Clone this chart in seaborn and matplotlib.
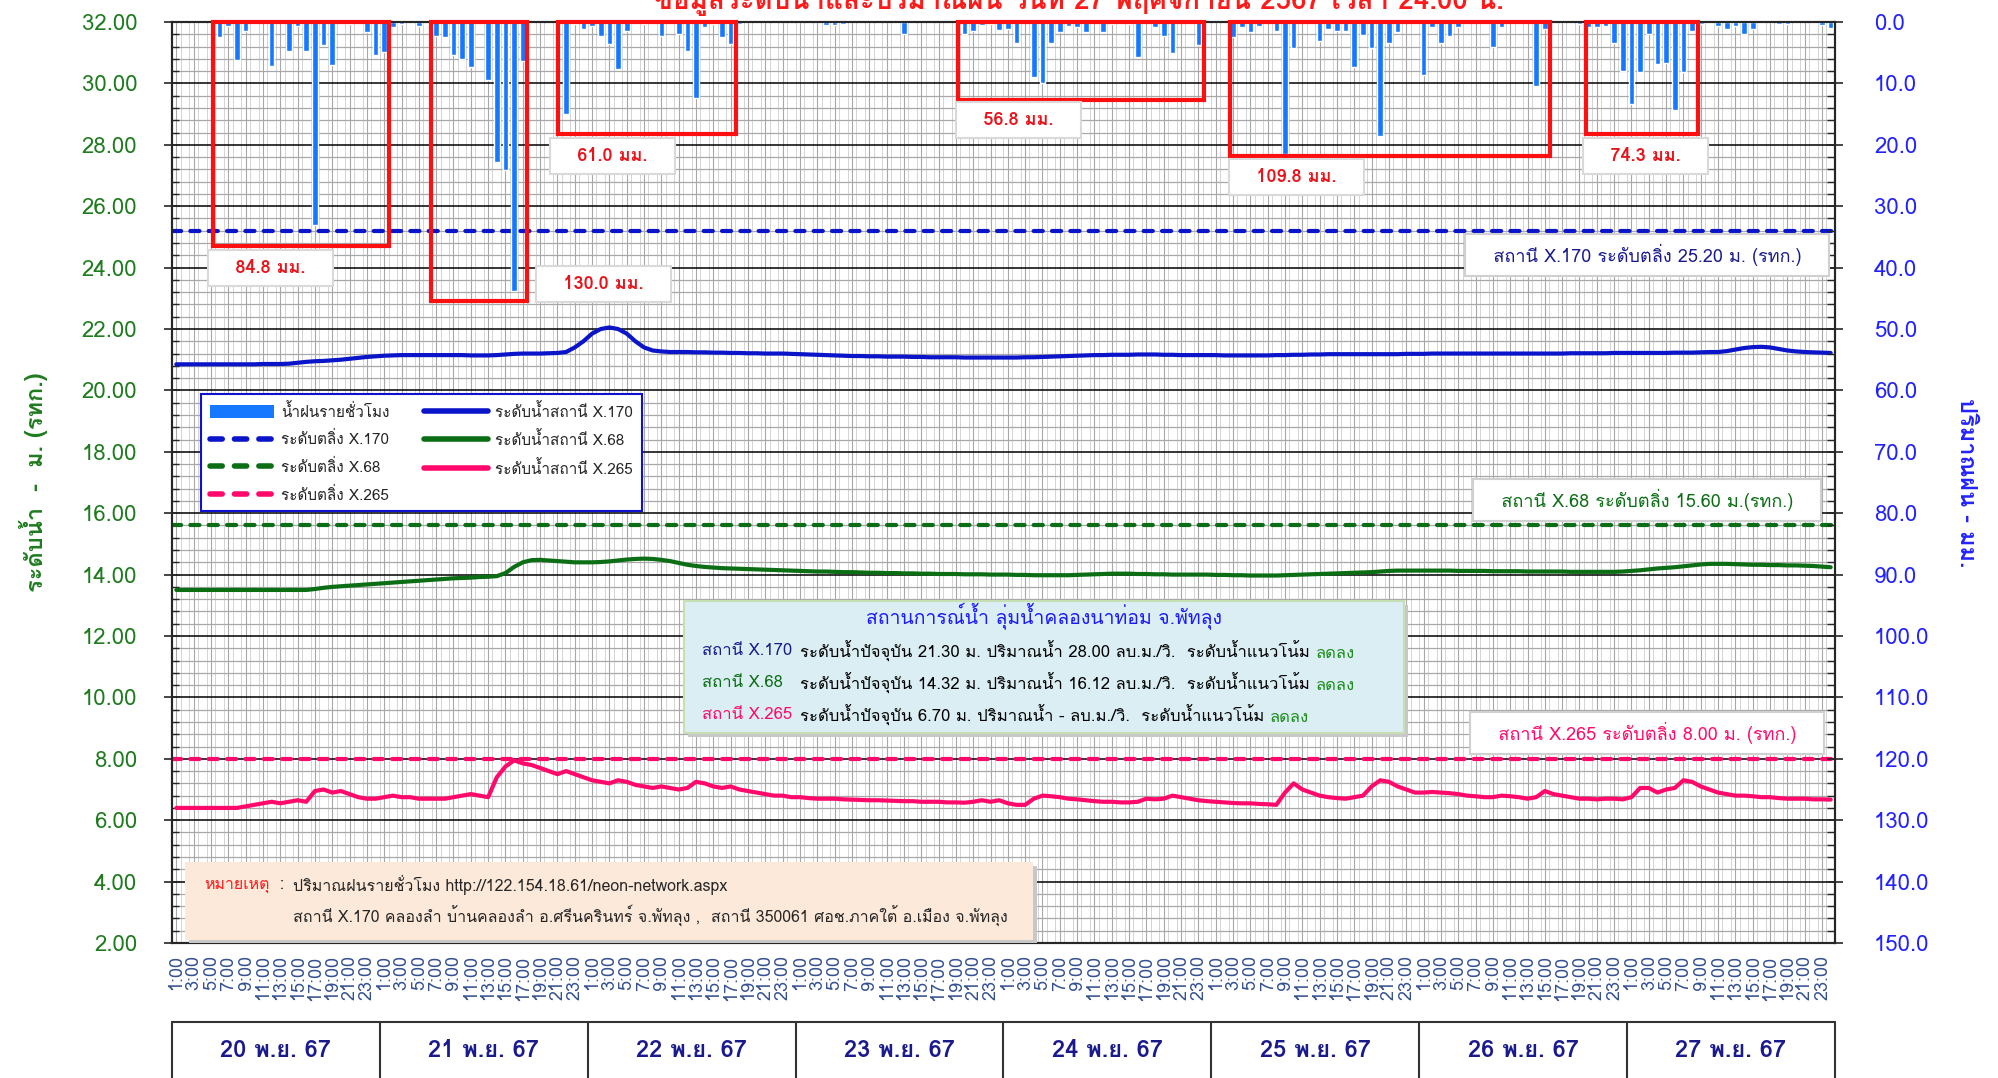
import matplotlib
matplotlib.use("Agg")
import matplotlib.pyplot as plt
import matplotlib.transforms as mtransforms
from matplotlib import font_manager
from matplotlib.ft2font import FT2Font
from matplotlib.lines import Line2D
from matplotlib.patches import Patch, Rectangle
from matplotlib.ticker import MultipleLocator, FixedLocator
import seaborn as sns


# ---------------- data ----------------
day_labels = ['20 พ.ย. 67', '21 พ.ย. 67', '22 พ.ย. 67', '23 พ.ย. 67',
              '24 พ.ย. 67', '25 พ.ย. 67', '26 พ.ย. 67', '27 พ.ย. 67']
hour_labels = ['1:00', '2:00', '3:00', '4:00', '5:00', '6:00', '7:00', '8:00',
               '9:00', '10:00', '11:00', '12:00', '13:00', '14:00', '15:00', '16:00',
               '17:00', '18:00', '19:00', '20:00', '21:00', '22:00', '23:00', '24:00']

# hourly water level (m. MSL), one row per day
level_x170 = [
    20.85, 20.85, 20.85, 20.85, 20.85, 20.85, 20.85, 20.85, 20.85, 20.85, 20.86, 20.86, 20.86, 20.87, 20.90, 20.93, 20.95, 20.96, 20.98, 21.00, 21.03, 21.06, 21.09, 21.11,
    21.13, 21.14, 21.15, 21.15, 21.15, 21.15, 21.15, 21.15, 21.15, 21.15, 21.14, 21.14, 21.14, 21.15, 21.17, 21.19, 21.20, 21.20, 21.20, 21.21, 21.22, 21.25, 21.40, 21.60,
    21.85, 22.00, 22.05, 22.00, 21.85, 21.60, 21.40, 21.30, 21.27, 21.25, 21.25, 21.25, 21.24, 21.24, 21.23, 21.23, 21.22, 21.22, 21.21, 21.21, 21.20, 21.20, 21.20, 21.19,
    21.18, 21.17, 21.16, 21.15, 21.14, 21.13, 21.12, 21.12, 21.11, 21.11, 21.10, 21.10, 21.10, 21.09, 21.09, 21.08, 21.08, 21.08, 21.08, 21.07, 21.07, 21.07, 21.07, 21.07,
    21.07, 21.07, 21.08, 21.08, 21.09, 21.10, 21.11, 21.12, 21.13, 21.14, 21.15, 21.15, 21.16, 21.16, 21.16, 21.17, 21.17, 21.17, 21.16, 21.16, 21.15, 21.15, 21.15, 21.15,
    21.15, 21.14, 21.14, 21.14, 21.14, 21.14, 21.14, 21.15, 21.15, 21.16, 21.16, 21.17, 21.17, 21.18, 21.18, 21.18, 21.18, 21.18, 21.18, 21.18, 21.18, 21.18, 21.19, 21.19,
    21.19, 21.20, 21.20, 21.20, 21.20, 21.20, 21.20, 21.20, 21.20, 21.20, 21.20, 21.20, 21.20, 21.20, 21.20, 21.20, 21.20, 21.21, 21.21, 21.21, 21.21, 21.21, 21.22, 21.22,
    21.22, 21.22, 21.22, 21.22, 21.22, 21.23, 21.23, 21.23, 21.24, 21.25, 21.25, 21.28, 21.33, 21.38, 21.41, 21.42, 21.40, 21.35, 21.30, 21.27, 21.25, 21.24, 21.23, 21.22,
]
level_x68 = [
    13.50, 13.50, 13.50, 13.50, 13.50, 13.50, 13.50, 13.50, 13.50, 13.50, 13.50, 13.50, 13.50, 13.50, 13.50, 13.50, 13.53, 13.57, 13.60, 13.62, 13.64, 13.66, 13.68, 13.70,
    13.72, 13.74, 13.76, 13.78, 13.80, 13.82, 13.84, 13.86, 13.88, 13.89, 13.90, 13.92, 13.93, 13.95, 14.05, 14.25, 14.40, 14.47, 14.48, 14.46, 14.44, 14.42, 14.40, 14.40,
    14.40, 14.41, 14.43, 14.46, 14.49, 14.51, 14.52, 14.51, 14.48, 14.44, 14.38, 14.32, 14.28, 14.25, 14.23, 14.21, 14.20, 14.19, 14.18, 14.17, 14.16, 14.15, 14.14, 14.13,
    14.12, 14.11, 14.10, 14.10, 14.09, 14.08, 14.08, 14.07, 14.06, 14.06, 14.05, 14.05, 14.04, 14.04, 14.03, 14.03, 14.02, 14.02, 14.02, 14.01, 14.01, 14.01, 14.00, 14.00,
    14.00, 13.99, 13.99, 13.98, 13.98, 13.98, 13.98, 13.98, 13.99, 14.00, 14.01, 14.02, 14.03, 14.03, 14.03, 14.02, 14.02, 14.01, 14.01, 14.00, 14.00, 14.00, 14.00, 14.00,
    13.99, 13.99, 13.98, 13.98, 13.97, 13.97, 13.97, 13.97, 13.98, 13.99, 14.00, 14.01, 14.02, 14.03, 14.04, 14.05, 14.06, 14.07, 14.08, 14.10, 14.12, 14.13, 14.13, 14.13,
    14.13, 14.13, 14.13, 14.13, 14.12, 14.12, 14.12, 14.12, 14.11, 14.11, 14.11, 14.11, 14.10, 14.10, 14.10, 14.10, 14.10, 14.09, 14.09, 14.09, 14.09, 14.09, 14.09, 14.10,
    14.12, 14.14, 14.17, 14.20, 14.22, 14.24, 14.27, 14.30, 14.33, 14.35, 14.35, 14.35, 14.34, 14.33, 14.32, 14.32, 14.31, 14.31, 14.30, 14.30, 14.29, 14.28, 14.26, 14.24,
]
level_x265 = [
    6.40, 6.40, 6.40, 6.40, 6.40, 6.40, 6.40, 6.40, 6.45, 6.50, 6.55, 6.60, 6.55, 6.60, 6.65, 6.60, 6.95, 7.00, 6.90, 6.95, 6.85, 6.75, 6.70, 6.70,
    6.75, 6.80, 6.75, 6.75, 6.70, 6.70, 6.70, 6.70, 6.75, 6.80, 6.85, 6.80, 6.75, 7.40, 7.75, 7.95, 7.85, 7.80, 7.70, 7.60, 7.50, 7.60, 7.50, 7.40,
    7.30, 7.25, 7.20, 7.30, 7.25, 7.15, 7.10, 7.05, 7.10, 7.05, 7.00, 7.05, 7.25, 7.20, 7.10, 7.05, 7.10, 7.00, 6.95, 6.90, 6.85, 6.80, 6.80, 6.75,
    6.75, 6.72, 6.70, 6.70, 6.70, 6.68, 6.67, 6.66, 6.65, 6.65, 6.64, 6.63, 6.62, 6.62, 6.60, 6.60, 6.60, 6.58, 6.58, 6.57, 6.60, 6.65, 6.60, 6.65,
    6.55, 6.50, 6.50, 6.70, 6.80, 6.78, 6.75, 6.70, 6.68, 6.65, 6.62, 6.60, 6.60, 6.58, 6.58, 6.60, 6.70, 6.68, 6.70, 6.80, 6.75, 6.70, 6.65, 6.62,
    6.60, 6.58, 6.56, 6.55, 6.55, 6.53, 6.52, 6.50, 6.90, 7.20, 7.00, 6.90, 6.80, 6.75, 6.72, 6.70, 6.75, 6.80, 7.10, 7.30, 7.25, 7.10, 7.00, 6.90,
    6.90, 6.92, 6.90, 6.88, 6.85, 6.80, 6.78, 6.75, 6.75, 6.80, 6.78, 6.75, 6.70, 6.75, 6.95, 6.85, 6.80, 6.75, 6.70, 6.70, 6.68, 6.70, 6.70, 6.68,
    6.75, 7.05, 7.05, 6.90, 7.00, 7.05, 7.30, 7.25, 7.10, 7.00, 6.90, 6.85, 6.80, 6.80, 6.78, 6.75, 6.75, 6.72, 6.70, 6.70, 6.70, 6.68, 6.68, 6.67,
]

# hourly rainfall (mm), station 350061
rain_mm = [
    0, 0, 0, 0, 0, 2.4, 0.7, 6.2, 1.5, 0.4, 0, 7.2, 0, 4.7, 0.7, 4.7, 33.0, 3.7, 7.0, 0, 0.4, 0, 1.7, 5.4,
    4.9, 0.8, 0.4, 0, 0.7, 0, 2.2, 2.4, 5.4, 6.1, 7.4, 0, 9.4, 22.8, 24.1, 43.8, 6.4, 0, 0, 0, 0, 15.0, 0.4, 1.1,
    0.6, 2.2, 3.6, 7.6, 1.5, 0, 0.4, 0.4, 2.2, 0, 1.9, 4.7, 12.4, 0.8, 0.4, 2.4, 3.6, 0.3, 0, 0, 0, 0, 0, 0,
    0, 0, 0, 0.5, 0.5, 0.4, 0, 0, 0, 0, 0, 0, 2.0, 0, 0, 0, 0, 0, 0, 2.0, 1.5, 0.5, 0.3, 1.3,
    1.1, 3.4, 0, 8.9, 9.9, 3.4, 1.6, 0.6, 0.8, 1.6, 0, 1.6, 0.4, 0, 0.4, 5.7, 0, 0.8, 2.2, 5.1, 0, 0, 3.7, 0,
    0, 0, 2.4, 0.8, 1.6, 0.6, 0, 1.4, 21.5, 4.3, 0, 0, 3.1, 1.1, 1.4, 1.4, 7.4, 2.1, 4.3, 18.5, 3.4, 1.6, 0, 0.4,
    8.6, 0.8, 3.5, 2.3, 0.8, 0, 0, 0, 4.1, 0.8, 0, 0, 0, 10.5, 1.1, 0, 0, 0, 0.4, 0.8, 0.8, 0.6, 3.4, 7.9,
    13.4, 8.1, 1.9, 6.9, 6.6, 14.3, 8.1, 1.5, 0.4, 0, 0.6, 1.1, 0.6, 2.0, 1.1, 0, 0, 0.4, 0.4, 0, 0, 0, 0.5, 0.9,
]

bank_levels = [25.20, 15.60, 8.00]
station_names = ['X.170', 'X.68', 'X.265']
current_level = ['21.30', '14.32', '6.70']
current_flow = ['28.00', '16.12', '-']
trend = ['ลดลง', 'ลดลง', 'ลดลง']
rain_totals = [84.8, 130.0, 61.0, 56.8, 109.8, 74.3]

# rain-event boxes: (x from, x to, depth mm) and label position (x, mm)
rain_boxes = [(4.2, 24.5, 36.5), (29.4, 40.5, 45.4), (44.1, 64.6, 18.3),
              (90.3, 118.7, 12.7), (121.6, 158.6, 21.8), (162.7, 175.7, 18.3)]
rain_label_pos = [(10.9, 40.0), (49.3, 42.7), (50.4, 21.8),
                  (97.2, 16.0), (129.3, 25.3), (169.6, 21.8)]

c170 = '#0a14c8'
c68 = '#0b6e14'
c265 = '#ff0a6c'
c_rain = '#1677ff'
c_left = '#1e7b1e'
c_right = '#2222ff'
c_navy = '#1a1a8c'


def find_thai_font():
    seen = set()
    for f in font_manager.fontManager.ttflist:
        if f.name in seen:
            continue
        seen.add(f.name)
        try:
            if 0x0E01 in FT2Font(f.fname).get_charmap():
                return f.name
        except Exception:
            pass
    return None


sns.set_style('white')
thai = find_thai_font()
plt.rcParams['font.family'] = ([thai] if thai else []) + ['DejaVu Sans']

n = len(rain_mm)
slots = list(range(n))

fig = plt.figure(figsize=(19.98, 10.78), dpi=100)
ax = fig.add_axes([172 / 1998, 1 - 943 / 1078, 1663 / 1998, 921 / 1078])
ax2 = ax.twinx()

# ---------------- levels ----------------
ax.set_xlim(-0.5, n - 0.5)
ax.set_ylim(2, 32)
ax.set_axisbelow(True)

ax.yaxis.set_major_locator(MultipleLocator(2))
ax.yaxis.set_minor_locator(MultipleLocator(0.4))
ax.set_yticklabels([f'{v:.2f}' for v in ax.get_yticks()])
ax.xaxis.set_major_locator(FixedLocator(slots[::2]))
ax.xaxis.set_minor_locator(FixedLocator([s + 0.5 for s in slots]))
ax.set_xticklabels([hour_labels[s % 24] for s in slots[::2]], rotation=90)

ax.grid(which='minor', axis='y', color='#a8a8a8', lw=0.9)
ax.grid(which='major', axis='y', color='black', lw=1.1)
ax.grid(which='major', axis='x', color='#a8a8a8', lw=0.8)
ax.grid(which='minor', axis='x', color='#d4d4d4', lw=0.7)

ax.tick_params(axis='y', which='major', direction='inout', length=12, width=1.2,
               labelsize=16, labelcolor=c_left, pad=19)
ax.tick_params(axis='y', which='minor', direction='in', length=5, width=1)
ax.tick_params(axis='x', which='major', direction='out', length=7, width=1,
               labelsize=13, labelcolor='#34508f', pad=2)
ax.tick_params(axis='x', which='minor', direction='out', length=7, width=1)

for s in ax.spines.values():
    s.set_color('black')
    s.set_linewidth(1.5)

sns.lineplot(x=slots, y=level_x170, ax=ax, color=c170, lw=3, legend=False)
sns.lineplot(x=slots, y=level_x68, ax=ax, color=c68, lw=3, legend=False)
sns.lineplot(x=slots, y=level_x265, ax=ax, color=c265, lw=3, legend=False)

dash = (0, (2.2, 2.2))
for lvl, col in zip(bank_levels, [c170, c68, c265]):
    ax.axhline(lvl, color=col, lw=3, ls=dash, dash_capstyle='round', zorder=3)

ax.set_ylabel('ระดับน้ำ  -  ม. (รทก.)', color=c_left, fontsize=17, fontweight='bold')
ax.yaxis.set_label_coords(-0.0746, 0.5)

# ---------------- rainfall ----------------
ax2.bar(slots, rain_mm, width=0.65, color=c_rain, zorder=2)
ax2.set_ylim(150, 0)
ax2.yaxis.set_major_locator(MultipleLocator(10))
ax2.yaxis.set_minor_locator(MultipleLocator(2))
ax2.set_yticklabels([f'{v:.1f}' for v in ax2.get_yticks()])
ax2.tick_params(axis='y', which='major', direction='inout', length=12, width=1.2,
                labelsize=16, labelcolor=c_right, pad=22)
ax2.tick_params(axis='y', which='minor', direction='in', length=6, width=1)
ax2.set_ylabel('ปริมาณฝน - มม.', color=c_right, fontsize=17, fontweight='bold',
               rotation=270, va='center')
ax2.yaxis.set_label_coords(1.0788, 0.5)
for s in ax2.spines.values():
    s.set_linewidth(1.5)

for (x0, x1, d), (lx, ly), tot in zip(rain_boxes, rain_label_pos, rain_totals):
    ax2.add_patch(Rectangle((x0, 0), x1 - x0, d, fill=False, ec='#ff1010', lw=3,
                            clip_on=False, zorder=4))
    ax2.text(lx, ly, f'   {tot:.1f} มม.   ', color='#e8141b', fontsize=13, fontweight='bold',
             ha='center', va='center', zorder=5,
             bbox=dict(boxstyle='square,pad=0.5', fc='white', ec='#d9d9d9', lw=1.5))

# bank-level captions
bank_text = ['สถานี X.170 ระดับตลิ่ง 25.20 ม. (รทก.)',
             'สถานี X.68 ระดับตลิ่ง 15.60 ม.(รทก.)',
             'สถานี X.265 ระดับตลิ่ง 8.00 ม. (รทก.)']
bank_text_y = [24.4, 16.44, 8.85]
for txt, ty, col in zip(bank_text, bank_text_y, [c_navy, c68, c265]):
    ax2.text(169.8, ty, f'   {txt}   ', transform=ax.transData, color=col, fontsize=13,
             ha='center', va='center', zorder=5,
             bbox=dict(boxstyle='square,pad=0.55', fc='white', ec='#d0d0d0', lw=1.5))

# ---------------- legend ----------------
handles = [
    Patch(fc=c_rain, ec='none', label='น้ำฝนรายชั่วโมง'),
    Line2D([], [], color=c170, lw=4, ls=dash, dash_capstyle='round', label='ระดับตลิ่ง X.170'),
    Line2D([], [], color=c68, lw=4, ls=dash, dash_capstyle='round', label='ระดับตลิ่ง X.68'),
    Line2D([], [], color=c265, lw=4, ls=dash, dash_capstyle='round', label='ระดับตลิ่ง X.265'),
    Line2D([], [], color=c170, lw=4, solid_capstyle='round', label='ระดับน้ำสถานี X.170'),
    Line2D([], [], color=c68, lw=4, solid_capstyle='round', label='ระดับน้ำสถานี X.68'),
    Line2D([], [], color=c265, lw=4, solid_capstyle='round', label='ระดับน้ำสถานี X.265'),
]
leg = ax2.legend(handles=handles, ncol=2, loc='upper left', bbox_to_anchor=(0.013, 0.604),
                 fontsize=11, handlelength=4.2, handleheight=0.9, columnspacing=2.2,
                 labelspacing=0.75, borderpad=0.55, handletextpad=0.5, fancybox=False,
                 framealpha=1, edgecolor='#1010d0')
leg.get_frame().set_linewidth(1.5)
leg.set_zorder(6)

# ---------------- status box ----------------
shadow = mtransforms.offset_copy(ax.transAxes, fig=fig, x=4, y=-4, units='dots')
ax2.add_patch(Rectangle((0.308, 0.228), 0.433, 0.143, transform=shadow,
                        fc='#c8c8c8', ec='none', zorder=6))
ax2.add_patch(Rectangle((0.308, 0.228), 0.433, 0.143, transform=ax.transAxes,
                        fc='#daeef3', ec='#c6e0b4', lw=1.5, zorder=6))
ax2.text(0.5245, 0.354, 'สถานการณ์น้ำ ลุ่มน้ำคลองนาท่อม จ.พัทลุง', transform=ax.transAxes,
         color='#1a1aff', fontsize=14, ha='center', va='center', zorder=7)
for i, (name, lvl, flow, tr, col) in enumerate(zip(station_names, current_level, current_flow,
                                                   trend, [c_navy, c68, c265])):
    y = [0.317, 0.2823, 0.2476][i]
    ax2.text(0.3187, y, f'สถานี {name}', transform=ax.transAxes, color=col,
             fontsize=12, va='center', zorder=7)
    t = ax2.text(0.3776, y, f'ระดับน้ำปัจจุบัน {lvl} ม. ปริมาณน้ำ {flow} ลบ.ม./วิ.  ระดับน้ำแนวโน้ม ',
                 transform=ax.transAxes, color='black', fontsize=12, va='center', zorder=7)
    ax2.annotate(tr, xy=(1, 0), xycoords=t, va='bottom', ha='left', color='#1e8c1e',
                 fontsize=12, zorder=7)

# ---------------- note box ----------------
ax2.add_patch(Rectangle((0.0078, 0.003), 0.510, 0.085, transform=shadow,
                        fc='#c8c8c8', ec='none', zorder=6))
ax2.add_patch(Rectangle((0.0078, 0.003), 0.510, 0.085, transform=ax.transAxes,
                        fc='#fde9d9', ec='none', zorder=6))
t = ax2.text(0.0192, 0.063, 'หมายเหตุ', transform=ax.transAxes, color='#ff1a1a',
             fontsize=11.5, va='center', zorder=7)
ax2.annotate('  :', xy=(1, 0), xycoords=t, va='bottom', fontsize=11.5, zorder=7)
ax2.text(0.0728, 0.063, 'ปริมาณฝนรายชั่วโมง http://122.154.18.61/neon-network.aspx',
         transform=ax.transAxes, fontsize=11.5, va='center', zorder=7)
ax2.text(0.0728, 0.0304, 'สถานี X.170 คลองลำ บ้านคลองลำ อ.ศรีนครินทร์ จ.พัทลุง ,  '
         'สถานี 350061 ศอช.ภาคใต้ อ.เมือง จ.พัทลุง',
         transform=ax.transAxes, fontsize=11.5, va='center', zorder=7)

# ---------------- day table under the axis ----------------
trans = mtransforms.blended_transform_factory(ax.transData, ax.transAxes)
ax.add_line(Line2D([-0.5, n - 0.5], [-0.086, -0.086], transform=trans, color='#333333',
                   lw=1.5, clip_on=False))
for d, lab in enumerate(day_labels):
    x0 = d * 24 - 0.5
    ax.add_line(Line2D([x0, x0], [-0.086, -0.2], transform=trans, color='#333333',
                       lw=1.5, clip_on=False))
    ax.text(x0 + 12, -0.117, lab, transform=trans, color=c_navy, fontsize=17,
            fontweight='bold', ha='center', va='center')
ax.add_line(Line2D([n - 0.5, n - 0.5], [-0.086, -0.2], transform=trans, color='#333333',
                   lw=1.5, clip_on=False))

# title sits mostly above the top edge, as in the source image
fig.text(0.54, 1 - 9 / 1078, 'ข้อมูลระดับน้ำและปริมาณฝน วันที่ 27 พฤศจิกายน 2567 เวลา 24.00 น.',
         color='#ff1a1a', fontsize=20, fontweight='bold', ha='center', va='baseline')

fig.savefig('out.png', dpi=100)
